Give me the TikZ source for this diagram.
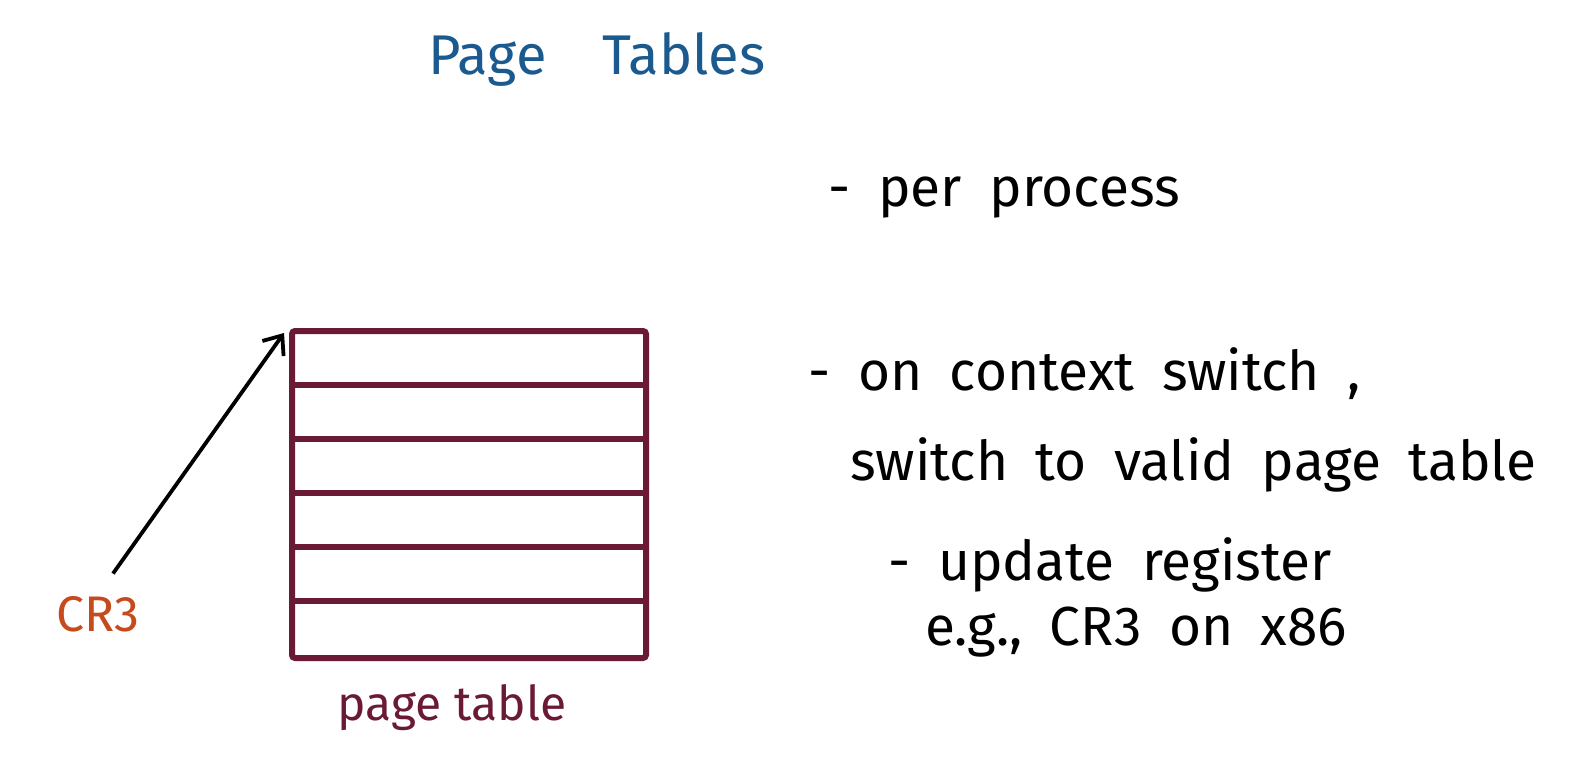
\documentclass[tikz,border=0pt]{standalone}
\usepackage{fontspec}
\setmainfont{Fira Sans}
\usetikzlibrary{arrows.meta,calc}
\definecolor{titleblue}{HTML}{1B5A8E}
\definecolor{maroon}{HTML}{6B1A35}
\definecolor{crorange}{HTML}{C54A1C}
\tikzset{
  note/.style={anchor=base west, inner sep=0pt, font=\fontsize{27.5}{32}\selectfont, text=black},
  tbl/.style={draw=maroon, line width=3pt, rounded corners=1.5pt},
  rowline/.style={draw=maroon, line width=3pt},
  ptr/.style={draw=black, line width=1.9pt, -{Straight Barb[length=8pt,width=13pt,line width=1.9pt]}}
}
\begin{document}
\begin{tikzpicture}[x=0.5pt,y=-0.5pt]
\useasboundingbox (0,0) rectangle (1575,771);
% title
\node[anchor=base west, inner sep=0pt, text=titleblue, font=\fontsize{28}{32}\selectfont] (title) at (428,74) {Page\quad Tables};
% page table
\node[tbl, minimum width=177pt, minimum height=163.5pt, inner sep=0pt] (pt) at (469,494.5) {};
\foreach \yy in {385,439,493,547,601}{
  \draw[rowline] ($(pt.west)+(0,\yy-494.5)$) -- ($(pt.east)+(0,\yy-494.5)$);
}
\node[anchor=base, inner sep=0pt, text=maroon, font=\fontsize{24}{28}\selectfont] (ptlabel) at (452,720) {page table};
% CR3
\node[anchor=base, inner sep=0pt, text=crorange, font=\fontsize{25}{28}\selectfont] (cr3) at (98,631) {CR3};
\draw[ptr] ($(cr3.north)+(15,-22)$) -- ($(pt.north west)+(-5,5)$);
% notes
\node[note] (n1) at (828,206) {-\enspace per\enspace process};
\node[note] (n2) at (808,390) {-\enspace on\enspace context\enspace switch\enspace,};
\node[note] (n3) at (850,480) {switch\enspace to\enspace valid\enspace page\enspace table};
\node[note] (n4) at (888,580) {-\enspace update\enspace register};
\node[note] (n5) at (925,645) {e.g.,\enspace CR3\enspace on\enspace x86};
\end{tikzpicture}
\end{document}
